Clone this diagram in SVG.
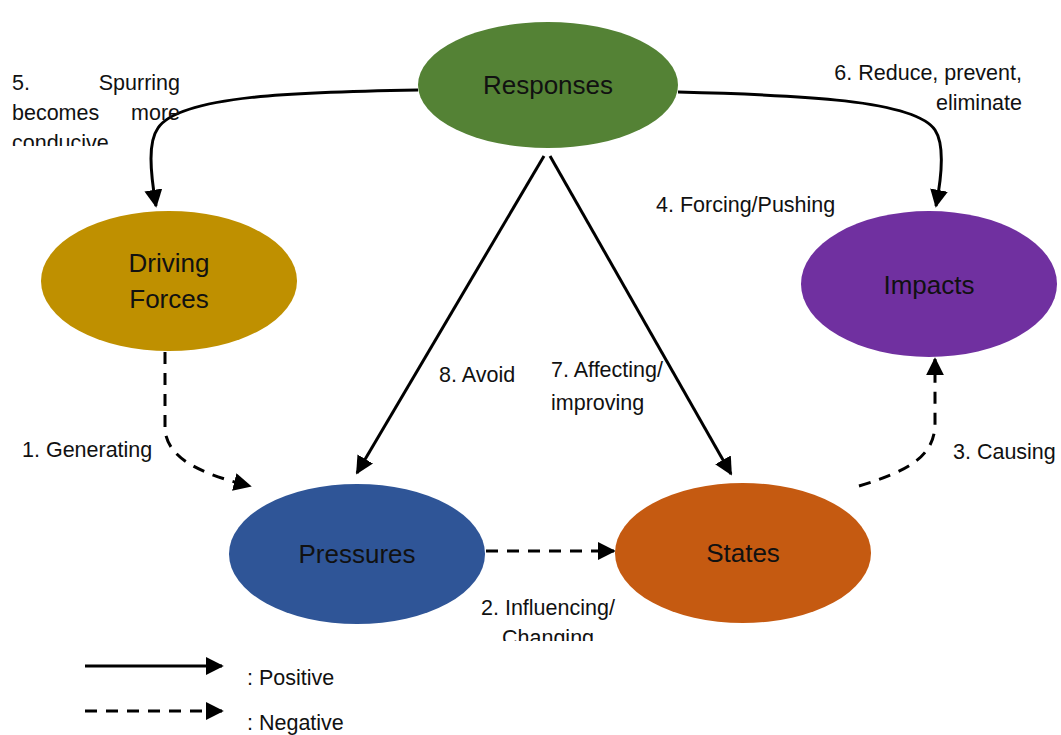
<svg xmlns="http://www.w3.org/2000/svg" width="1061" height="735" viewBox="0 0 1061 735">
<style>
.node text{font-family:"Liberation Sans",Arial,sans-serif;font-size:26px;fill:#111;text-anchor:middle}
.lbl{font-family:"Liberation Sans",Arial,sans-serif;font-size:21.5px;fill:#111}
.pos{fill:none;stroke:#000;stroke-width:3;marker-end:url(#ah)}
.neg{fill:none;stroke:#000;stroke-width:3;stroke-dasharray:12 9;marker-end:url(#ah)}
</style>
<defs>
<marker id="ah" viewBox="0 0 10 10" refX="9" refY="5" markerWidth="6" markerHeight="6" markerUnits="strokeWidth" orient="auto"><path d="M0,0 L10,5 L0,10 z" fill="#000"/></marker>
<clipPath id="c1"><rect x="0" y="0" width="300" height="146"/></clipPath>
<clipPath id="c2"><rect x="400" y="590" width="300" height="51"/></clipPath>
</defs>
<rect width="1061" height="735" fill="#fff"/>
<g id="connectors">
<path class="pos" d="M418,90 C300,92 180,95 158,128 C148,142 150,170 156,206"/>
<path class="pos" d="M678,92 C800,95 915,100 935,130 C945,145 942,175 936,206"/>
<path class="pos" d="M544,156 L357,473"/>
<path class="pos" d="M550,156 L731,474"/>
<path class="neg" d="M165,352 L165,430 C168,462 210,476 250,486"/>
<path class="neg" d="M486,551 L614,551"/>
<path class="neg" d="M859,486 C905,472 934,458 935,425 L935,359"/>
</g>
<g id="responses" class="node"><ellipse cx="548" cy="85" rx="130" ry="63" fill="#548235"/><text x="548" y="94">Responses</text></g>
<g id="driving" class="node"><ellipse cx="169" cy="281" rx="128" ry="70" fill="#BF9000"/><text x="169" y="272">Driving</text><text x="169" y="308">Forces</text></g>
<g id="impacts" class="node"><ellipse cx="929" cy="284" rx="128" ry="73" fill="#7030A0"/><text x="929" y="294">Impacts</text></g>
<g id="pressures" class="node"><ellipse cx="357" cy="554" rx="128" ry="70" fill="#2F5597"/><text x="357" y="563">Pressures</text></g>
<g id="states" class="node"><ellipse cx="743" cy="553" rx="128" ry="70" fill="#C55A11"/><text x="743" y="562">States</text></g>
<g id="labels">
<g clip-path="url(#c1)">
<text class="lbl" x="12" y="90">5.</text><text class="lbl" x="180" y="90" text-anchor="end">Spurring</text>
<text class="lbl" x="12" y="120">becomes</text><text class="lbl" x="180" y="120" text-anchor="end">more</text>
<text class="lbl" x="12" y="150">conducive</text>
</g>
<text class="lbl" x="1022" y="80" text-anchor="end">6. Reduce, prevent,</text>
<text class="lbl" x="1022" y="110" text-anchor="end">eliminate</text>
<text class="lbl" x="656" y="212">4. Forcing/Pushing</text>
<text class="lbl" x="439" y="382">8. Avoid</text>
<text class="lbl" x="551" y="377">7. Affecting/</text>
<text class="lbl" x="551" y="410">improving</text>
<text class="lbl" x="22" y="457">1. Generating</text>
<text class="lbl" x="953" y="459">3. Causing</text>
<text class="lbl" x="481" y="615">2. Influencing/</text>
<g clip-path="url(#c2)"><text class="lbl" x="502" y="645">Changing</text></g>
</g>
<g id="legend">
<path class="pos" d="M85,666 L222,666"/>
<path class="neg" d="M85,711 L222,711"/>
<text class="lbl" x="247" y="685">: Positive</text>
<text class="lbl" x="247" y="730">: Negative</text>
</g>
</svg>
